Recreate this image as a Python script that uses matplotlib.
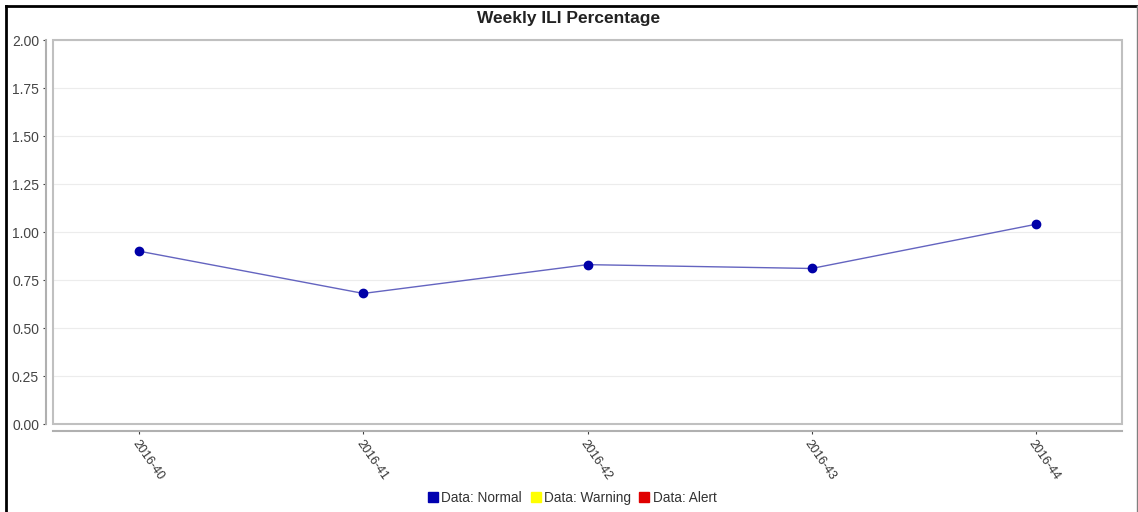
import matplotlib.pyplot as plt
from matplotlib.patches import Rectangle
from matplotlib.lines import Line2D

plt.rcParams['font.family'] = ['Liberation Sans', 'DejaVu Sans']

# data
weeks = ['2016-40', '2016-41', '2016-42', '2016-43', '2016-44']
ili_pct = [0.90, 0.68, 0.83, 0.81, 1.04]
y_ticks = [0.00, 0.25, 0.50, 0.75, 1.00, 1.25, 1.50, 1.75, 2.00]
legend_labels = ['Data: Normal', 'Data: Warning', 'Data: Alert']
legend_colors = ['#0000b0', '#ffff00', '#e00000']

fig = plt.figure(figsize=(11.38, 5.12), dpi=100)
ax = fig.add_axes([53 / 1138, 88 / 512, 1069 / 1138, 384 / 512])

x = list(range(len(weeks)))
ax.plot(x, ili_pct, color='#6464c0', lw=1.0, zorder=3)
ax.plot(x, ili_pct, 'o', color='#0000a8', ms=6, zorder=4)

ax.set_xlim(-0.385, len(weeks) - 1 + 0.385)
ax.set_ylim(0, 2.0)
ax.set_yticks(y_ticks)
ax.set_yticklabels([f'{v:.2f}' for v in y_ticks])
ax.set_xticks(x)
ax.set_xticklabels(weeks)

ax.grid(axis='y', color='#ececec', lw=0.8)
ax.set_axisbelow(True)

# offset axis lines like the original
for s in ['top', 'right']:
    ax.spines[s].set_visible(False)
for s in ['left', 'bottom']:
    ax.spines[s].set_position(('outward', 5))
    ax.spines[s].set_color('#b0b0b0')
    ax.spines[s].set_linewidth(1.5)
ax.add_patch(Rectangle((0, 0), 1, 1, transform=ax.transAxes, fill=False,
                       edgecolor='#c0c0c0', lw=1.5, clip_on=False, zorder=5))

ax.tick_params(axis='both', labelsize=10, colors='#404040', length=2, width=0.8, pad=3)
ax.tick_params(axis='x', labelsize=9)
for t in ax.get_yticklabels():
    t.set_color('#444444')
for t in ax.get_xticklabels():
    t.set_color('#333333')
    t.set_rotation(-55)
    t.set_ha('left')
    t.set_va('top')
    t.set_rotation_mode('anchor')

fig.text(0.5, 1 - 18 / 512, 'Weekly ILI Percentage', ha='center', va='center',
         fontsize=12.5, fontweight='bold', color='#222222')

handles = [Line2D([], [], marker='s', ls='none', color=c, ms=7) for c in legend_colors]
fig.legend(handles, legend_labels, loc='center', bbox_to_anchor=(572 / 1138, 1 - 498 / 512),
           ncol=3, frameon=False, fontsize=9.8, handletextpad=0.2, columnspacing=0.6,
           handlelength=0.8, borderpad=0, labelcolor='#333333')

# figure border
fig.add_artist(Line2D([6 / 1138, 6 / 1138], [0, 1 - 6 / 512], color='black', lw=2))
fig.add_artist(Line2D([6 / 1138, 1137 / 1138], [1 - 6 / 512, 1 - 6 / 512], color='black', lw=2))
fig.add_artist(Line2D([1137 / 1138, 1137 / 1138], [0, 1 - 6 / 512], color='#808080', lw=1))

fig.savefig('out.png', dpi=100)
